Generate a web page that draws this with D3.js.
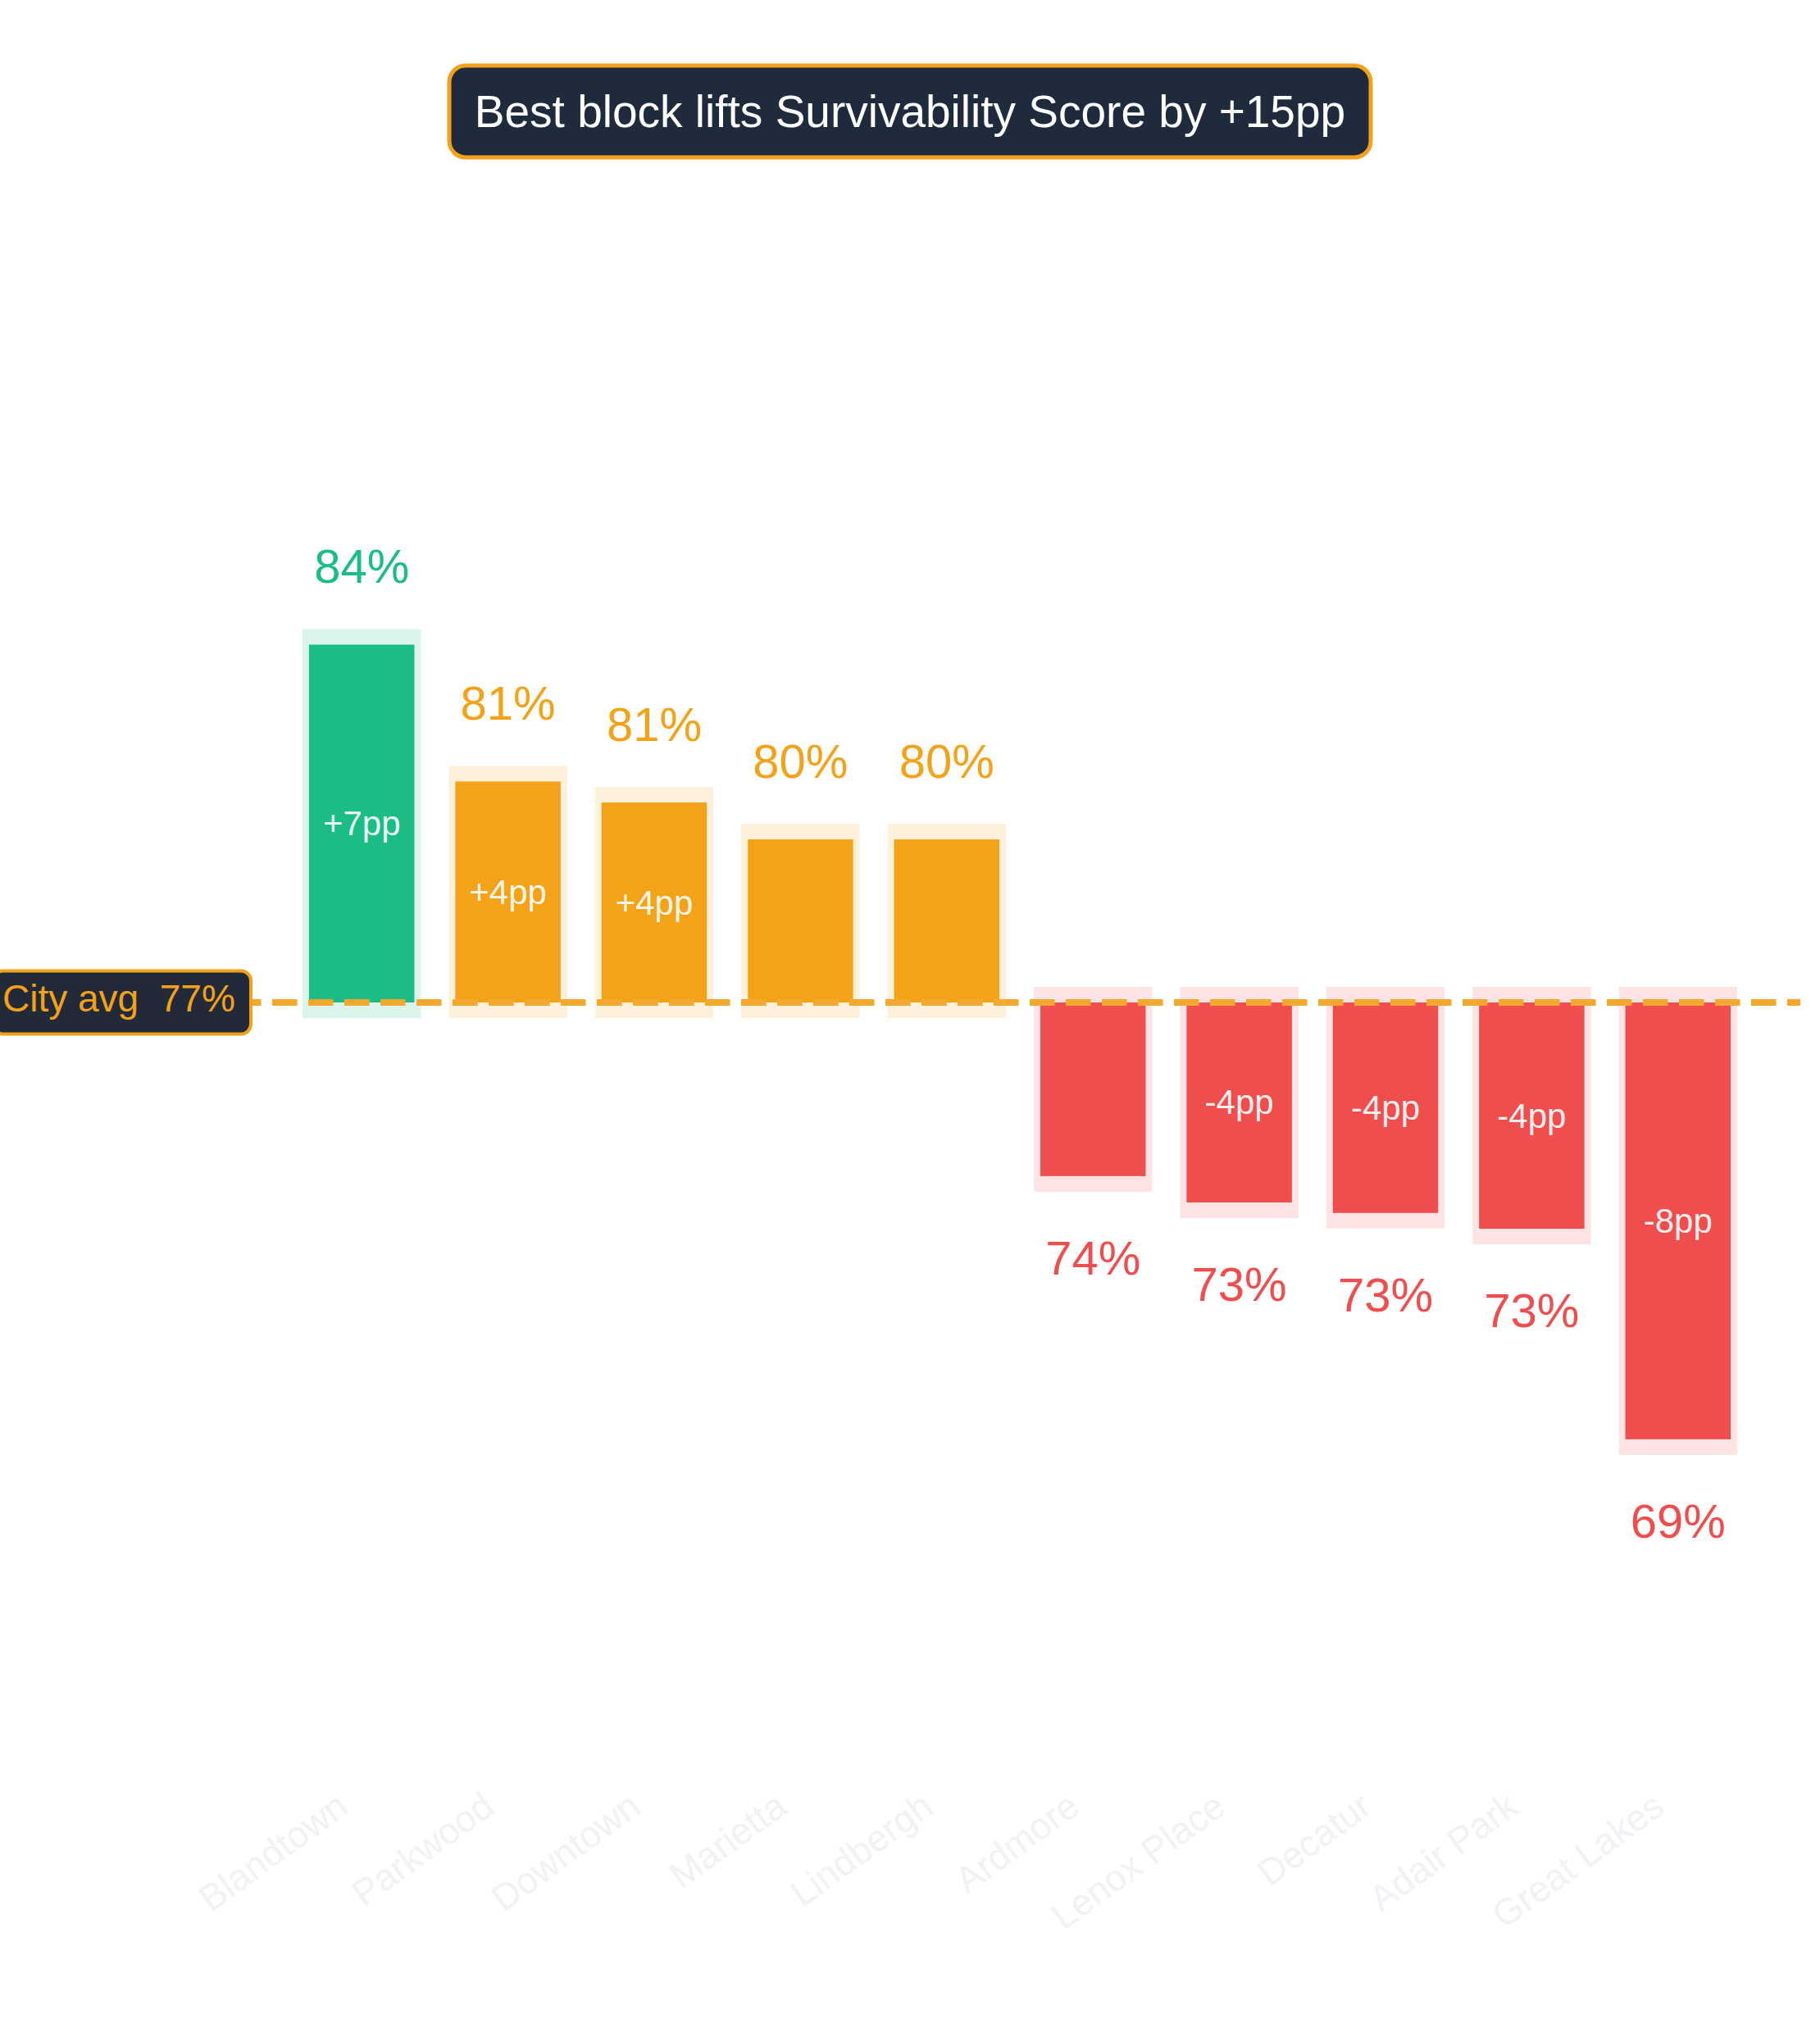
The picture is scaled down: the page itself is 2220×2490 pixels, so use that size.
<!DOCTYPE html>
<html>
<head>
<meta charset="utf-8">
<script src="https://cdn.jsdelivr.net/npm/d3@7"></script>
<style>
  html, body { margin: 0; padding: 0; background: #ffffff; }
  svg { display: block; font-family: "Liberation Sans", Arial, Helvetica, sans-serif; }
</style>
</head>
<body>
<svg id="chart" width="2220" height="2490"></svg>
<script>
// ---- data ----
const categories = ["Blandtown", "Parkwood", "Downtown", "Marietta", "Lindbergh",
                    "Ardmore", "Lenox Place", "Decatur", "Adair Park", "Great Lakes"];
const scores = [83.8, 81.2, 80.8, 80.1, 80.1, 73.7, 73.2, 73.0, 72.7, 68.7];
const cityAvg = 77.0;
const yDomain = [64, 90];
const metricName = "Survivability Score";

// ---- styles ----
const W = 2220, H = 2490;
const COLORS = { best: "#1bbc86", above: "#f4a218", below: "#f04e4e" };
const HALO = { best: "#dbf5ec", above: "#fdf1dc", below: "#fde3e4" };
const ORANGE = "#f4a11a";
const NAVY = "#1f2a3c";

const svg = d3.select("#chart");

const x = d3.scaleBand()
  .domain(categories)
  .range([352, 2136])
  .paddingInner(0.28)
  .paddingOuter(0.14);

const y = d3.scaleLinear()
  .domain(yDomain)
  .range([2057.6, 388.4]);

const data = categories.map((c, i) => ({ name: c, value: scores[i], delta: scores[i] - cityAvg }));
const maxV = d3.max(scores), minV = d3.min(scores);
data.forEach(d => {
  d.kind = d.value === maxV ? "best" : (d.delta >= 0 ? "above" : "below");
});

const y0 = y(cityAvg);
const haloPadX = 8, haloPadY = 19;

// halos
svg.append("g").selectAll("rect").data(data).join("rect")
  .attr("x", d => x(d.name) - haloPadX)
  .attr("width", x.bandwidth() + 2 * haloPadX)
  .attr("y", d => Math.min(y(d.value), y0) - haloPadY)
  .attr("height", d => Math.abs(y(d.value) - y0) + 2 * haloPadY)
  .attr("fill", d => HALO[d.kind]);

// bars
svg.append("g").selectAll("rect").data(data).join("rect")
  .attr("x", d => x(d.name))
  .attr("width", x.bandwidth())
  .attr("y", d => Math.min(y(d.value), y0))
  .attr("height", d => Math.abs(y(d.value) - y0))
  .attr("fill", d => COLORS[d.kind]);

// city average dashed line
svg.append("line")
  .attr("x1", 24).attr("x2", 2196)
  .attr("y1", y0).attr("y2", y0)
  .attr("stroke", "#f5a82e")
  .attr("stroke-width", 8)
  .attr("stroke-dasharray", "30.5,13.5");

// delta labels inside bars
svg.append("g").selectAll("text").data(data.filter(d => Math.abs(d.delta) >= 3.5)).join("text")
  .attr("x", d => x(d.name) + x.bandwidth() / 2)
  .attr("y", d => (y(d.value) + y0) / 2)
  .attr("text-anchor", "middle")
  .attr("dominant-baseline", "central")
  .attr("font-size", 42)
  .attr("fill", "rgba(255,255,255,0.93)")
  .text(d => (d.delta >= 0 ? "+" : "-") + Math.round(Math.abs(d.delta)) + "pp");

// value labels
svg.append("g").selectAll("text").data(data).join("text")
  .attr("x", d => x(d.name) + x.bandwidth() / 2)
  .attr("y", d => d.delta >= 0 ? y(d.value) - 75 : y(d.value) + 120)
  .attr("text-anchor", "middle")
  .attr("font-size", 58)
  .attr("fill", d => COLORS[d.kind])
  .text(d => Math.round(d.value) + "%");

// category labels (very faint, rotated)
svg.append("g").selectAll("text").data(data).join("text")
  .attr("transform", d => `translate(${x(d.name) + x.bandwidth() / 2 - 14},2210) rotate(-36)`)
  .attr("text-anchor", "end")
  .attr("font-size", 45)
  .attr("fill", "#f0f2f5")
  .text(d => d.name);

// city avg label
const lab = svg.append("g");
lab.append("rect")
  .attr("x", -8).attr("y", y0 - 38.5)
  .attr("width", 314).attr("height", 77)
  .attr("rx", 12).attr("ry", 12)
  .attr("fill", "#222a3a")
  .attr("stroke", ORANGE).attr("stroke-width", 4);
lab.append("text")
  .attr("x", 3).attr("y", y0 + 11)
  .attr("font-size", 46)
  .attr("fill", ORANGE)
  .attr("xml:space", "preserve")
  .style("white-space", "pre")
  .text("City avg  " + Math.round(cityAvg) + "%");

// title badge
const t = svg.append("g");
t.append("rect")
  .attr("x", 548).attr("y", 80)
  .attr("width", 1124).attr("height", 112)
  .attr("rx", 20).attr("ry", 20)
  .attr("fill", NAVY)
  .attr("stroke", ORANGE).attr("stroke-width", 5);
t.append("text")
  .attr("x", W / 2).attr("y", 155)
  .attr("text-anchor", "middle")
  .attr("font-size", 55)
  .attr("fill", "#ffffff")
  .text("Best block lifts " + metricName + " by +" + Math.round(maxV - minV) + "pp");
</script>
</body>
</html>
